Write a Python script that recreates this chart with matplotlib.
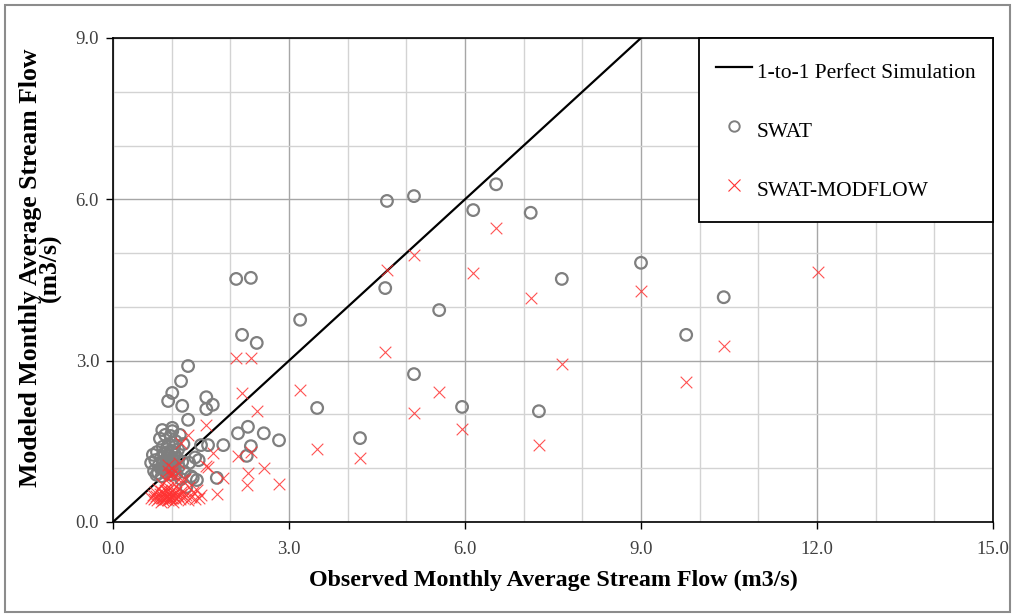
import matplotlib
matplotlib.use("Agg")
import matplotlib.pyplot as plt
from matplotlib.lines import Line2D
from matplotlib.patches import Rectangle
from matplotlib.ticker import MultipleLocator, FormatStrFormatter

plt.rcParams['font.family'] = ['Liberation Serif', 'DejaVu Serif']

# Observed monthly average stream flow (m3/s)
observed = [
    10.41, 9.77, 9.00, 7.65, 7.26, 7.12, 6.53, 6.14, 5.95, 5.56, 5.13, 5.13,
    4.67, 4.64, 4.21, 3.48, 3.19, 2.83, 2.57, 2.45, 2.35, 2.10, 2.20, 2.30,
    2.28, 2.35, 2.13, 1.88, 1.77, 1.62, 1.70, 1.59, 1.59, 1.28, 1.16, 1.01,
    0.94, 1.18, 12.02,
    0.65, 0.68, 0.70, 0.72, 0.74, 0.75, 0.77, 0.78, 0.80, 0.81, 0.82, 0.83,
    0.84, 0.85, 0.86, 0.87, 0.88, 0.89, 0.90, 0.90, 0.91, 0.92, 0.93, 0.94,
    0.95, 0.95, 0.96, 0.97, 0.98, 0.99, 1.00, 1.00, 1.01, 1.02, 1.03, 1.04,
    1.05, 1.06, 1.07, 1.08, 1.10, 1.11, 1.12, 1.14, 1.16, 1.18, 1.20, 1.22,
    1.25, 1.28, 1.30, 1.33, 1.36, 1.40, 1.43, 1.46, 1.50, 0.93, 0.97, 1.01,
]

# SWAT modeled flow (m3/s)
swat = [
    4.18, 3.48, 4.82, 4.52, 2.06, 5.75, 6.28, 5.80, 2.14, 3.94, 6.06, 2.75,
    5.97, 4.35, 1.56, 2.12, 3.76, 1.52, 1.65, 3.33, 4.54, 4.52, 3.48, 1.77,
    1.23, 1.41, 1.65, 1.43, 0.82, 1.43, 2.18, 2.32, 2.10, 2.90, 2.62, 2.40,
    2.25, 2.16, 7.10,
    1.10, 1.25, 0.95, 1.15, 0.88, 1.30, 0.91, 1.05, 1.55, 1.00, 1.20, 0.85,
    1.71, 1.40, 1.12, 0.98, 1.28, 1.62, 0.92, 1.08, 1.35, 1.18, 1.02, 1.25,
    1.45, 0.95, 1.10, 1.22, 1.60, 0.88, 1.05, 1.32, 1.69, 1.15, 0.97, 1.40,
    1.08, 1.25, 1.50, 0.90, 1.18, 1.35, 1.03, 1.62, 0.80, 1.12, 1.45, 0.93,
    0.65, 1.90, 1.10, 0.85, 0.82, 1.20, 0.78, 1.15, 1.43, 1.30, 1.00, 1.75,
]

# SWAT-MODFLOW modeled flow (m3/s)
swat_modflow = [
    3.27, 2.60, 4.30, 2.94, 1.43, 4.17, 5.47, 4.63, 1.73, 2.42, 4.96, 2.03,
    4.69, 3.16, 1.19, 1.36, 2.45, 0.71, 1.00, 2.06, 3.05, 3.05, 2.40, 0.91,
    0.69, 1.30, 1.23, 0.82, 0.52, 1.02, 1.28, 1.80, 1.04, 1.62, 1.47, 0.91,
    1.06, 0.78, 4.65,
    0.45, 0.50, 0.42, 0.55, 0.48, 0.40, 0.62, 0.45, 0.52, 0.38, 0.58, 0.44,
    0.70, 0.47, 0.41, 0.53, 0.60, 0.43, 0.78, 0.49, 0.46, 0.57, 0.40, 0.65,
    0.44, 0.52, 0.90, 0.48, 0.42, 0.55, 0.60, 0.45, 1.00, 0.50, 0.38, 0.70,
    0.47, 0.85, 0.43, 0.55, 0.62, 0.48, 1.10, 0.42, 0.52, 0.58, 0.45, 0.80,
    0.50, 0.40, 0.65, 0.47, 0.55, 0.42, 0.60, 0.45, 0.50, 0.95, 0.44, 0.88,
]

one_to_one = [0.0, 9.0]

fig = plt.figure(figsize=(10.13, 6.16), dpi=100)
ax = fig.add_axes([113/1013, 94/616, 880/1013, 484/616])

ax.set_xlim(0, 15)
ax.set_ylim(0, 9)
ax.xaxis.set_major_locator(MultipleLocator(3))
ax.yaxis.set_major_locator(MultipleLocator(3))
ax.xaxis.set_minor_locator(MultipleLocator(1))
ax.yaxis.set_minor_locator(MultipleLocator(1))
ax.xaxis.set_major_formatter(FormatStrFormatter('%.1f'))
ax.yaxis.set_major_formatter(FormatStrFormatter('%.1f'))
ax.grid(which='major', color='#a6a6a6', linewidth=1.0)
ax.grid(which='minor', color='#d3d3d3', linewidth=1.0)
ax.set_axisbelow(True)
ax.tick_params(which='minor', length=0)
ax.tick_params(which='major', length=5, width=1, direction='out',
               labelsize=13.5, labelcolor='#404040')
ax.tick_params(axis='x', pad=9)
ax.tick_params(axis='y', pad=5)
for s in ax.spines.values():
    s.set_color('black')
    s.set_linewidth(1.2)

ax.plot(one_to_one, one_to_one, color='black', linewidth=1.6, zorder=3)
ax.scatter(observed, swat, s=70, facecolors='none', edgecolors='#7f7f7f',
           linewidths=1.6, zorder=4)
ax.scatter(observed, swat_modflow, s=70, marker='x', color='#ff3333',
           linewidths=0.8, alpha=0.85, zorder=5)

ax.set_xlabel('Observed Monthly Average Stream Flow (m3/s)', fontsize=17.3,
              fontweight='bold', labelpad=8)
ax.set_ylabel('Modeled Monthly Average Stream Flow\n(m3/s)', fontsize=18.5,
              fontweight='bold', linespacing=0.8)
ax.yaxis.set_label_coords(-0.0585, 0.525)

handles = [
    Line2D([], [], color='black', linewidth=1.6),
    Line2D([], [], linestyle='none', marker='o', markersize=7.5,
           markerfacecolor='none', markeredgecolor='#7f7f7f', markeredgewidth=1.4),
    Line2D([], [], linestyle='none', marker='x', markersize=9,
           color='#ff3333', markeredgewidth=0.8),
]
leg = ax.legend(handles, ['1-to-1 Perfect Simulation', 'SWAT', 'SWAT-MODFLOW'],
                loc='upper right', bbox_to_anchor=(1.0, 1.0), borderaxespad=0,
                fontsize=15.5, frameon=True, fancybox=False, framealpha=1,
                edgecolor='black', labelspacing=1.35, handlelength=1.63,
                handleheight=1.77, handletextpad=0.23, borderpad=0.83)
leg.get_frame().set_linewidth(1.3)
leg.set_zorder(10)

fig.patches.append(Rectangle((5/1013, 4/616), 1005/1013, 607/616,
                             transform=fig.transFigure, fill=False,
                             edgecolor='#8c8c8c', linewidth=1.5))

fig.savefig('out.png', dpi=100)
